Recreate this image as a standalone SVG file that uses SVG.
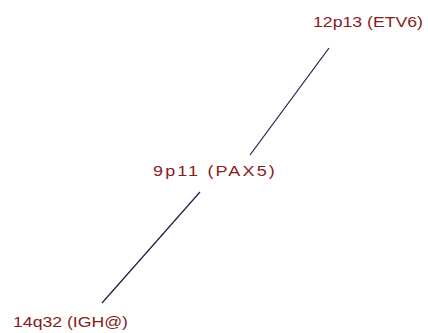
<svg xmlns="http://www.w3.org/2000/svg" width="428" height="333" viewBox="0 0 428 333">
<style>
.lbl{font-family:"Liberation Sans",Arial,sans-serif;font-size:15px;fill:#861c1c;}
.edge{stroke:#1c1c48;stroke-width:1.2;fill:none;}
</style>
<rect width="428" height="333" fill="#ffffff"/>
<g id="connectors">
<line class="edge" x1="329" y1="48" x2="250" y2="155"/>
<line class="edge" x1="200" y1="192" x2="102" y2="303"/>
</g>
<g id="node-etv6"><text class="lbl" x="313" y="27" textLength="110" lengthAdjust="spacingAndGlyphs">12p13 (ETV6)</text></g>
<g id="node-pax5"><text class="lbl" transform="translate(153,176) scale(1.2,1)" x="0" y="0" textLength="101.5" lengthAdjust="spacing">9p11 (PAX5)</text></g>
<g id="node-igh"><text class="lbl" x="13" y="327" textLength="115" lengthAdjust="spacingAndGlyphs">14q32 (IGH@)</text></g>
</svg>
